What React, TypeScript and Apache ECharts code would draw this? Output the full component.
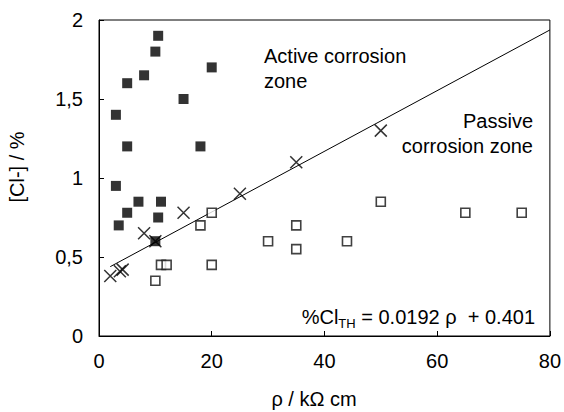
import React, { useEffect, useRef } from "react";
import * as echarts from "echarts";

// Active corrosion zone (filled squares)
const activeX = [10.5, 10, 20, 8, 5, 15, 3, 5, 18, 3, 7, 11, 5, 10.5, 3.5, 10];
const activeY = [1.9, 1.8, 1.7, 1.65, 1.6, 1.5, 1.4, 1.2, 1.2, 0.95, 0.85, 0.85, 0.78, 0.75, 0.7, 0.6];

// Passive corrosion zone (open squares)
const passiveX = [20, 18, 11, 12, 10, 20, 30, 35, 35, 44, 50, 65, 75];
const passiveY = [0.78, 0.7, 0.45, 0.45, 0.35, 0.45, 0.6, 0.7, 0.55, 0.6, 0.85, 0.78, 0.78];

// Threshold points (crosses)
const thX = [2, 3.7, 4.2, 8, 10, 15, 25, 35, 50];
const thY = [0.38, 0.41, 0.42, 0.65, 0.6, 0.78, 0.9, 1.1, 1.3];

// Regression line %Cl_TH = 0.0192 rho + 0.401
const lineX = [2, 80];
const lineY = [0.439, 1.937];

const xTicks = [0, 20, 40, 60, 80];
const yTicks = [0, 0.5, 1, 1.5, 2];

const FONT = "'Liberation Sans', Arial, Helvetica, sans-serif";

export default function App() {
  const ref = useRef<HTMLDivElement>(null);
  useEffect(() => {
    if (!ref.current) return;
    const chart = echarts.init(ref.current, null, { renderer: "svg" });
    const zip = (xs: number[], ys: number[]) => xs.map((x, i) => [x, ys[i]]);
    chart.setOption({
      animation: false,
      backgroundColor: "#ffffff",
      textStyle: { fontFamily: FONT, color: "#000" },
      grid: {
        left: 99,
        right: 12,
        top: 20,
        bottom: 76,
        show: true,
        borderColor: "#000",
        borderWidth: 1,
        backgroundColor: "transparent",
      },
      xAxis: {
        type: "value",
        min: xTicks[0],
        max: xTicks[xTicks.length - 1],
        interval: 20,
        axisLine: { show: true, lineStyle: { color: "#000", width: 1 } },
        axisTick: { show: true, inside: true, length: 5, lineStyle: { color: "#000" } },
        splitLine: { show: false },
        axisLabel: { color: "#000", fontFamily: FONT, fontSize: 20, margin: 15 },
      },
      yAxis: {
        type: "value",
        min: yTicks[0],
        max: yTicks[yTicks.length - 1],
        interval: 0.5,
        axisLine: { show: true, lineStyle: { color: "#000", width: 1 } },
        axisTick: { show: true, inside: true, length: 5, lineStyle: { color: "#000" } },
        splitLine: { show: false },
        axisLabel: {
          color: "#000",
          fontFamily: FONT,
          fontSize: 20,
          margin: 16,
          formatter: (v: number) => String(v).replace(".", ","),
        },
      },
      series: [
        {
          type: "line",
          data: zip(lineX, lineY),
          symbol: "none",
          lineStyle: { color: "#000", width: 1 },
          z: 1,
        },
        {
          type: "scatter",
          data: zip(passiveX, passiveY),
          symbol: "rect",
          symbolSize: 9,
          itemStyle: { color: "#fff", borderColor: "#111", borderWidth: 1.6 },
          z: 2,
        },
        {
          type: "scatter",
          data: zip(activeX, activeY),
          symbol: "rect",
          symbolSize: 10,
          itemStyle: { color: "#000" },
          z: 3,
        },
        {
          type: "scatter",
          data: zip(thX, thY),
          symbol: "path://M0,0L10,10M10,0L0,10",
          symbolSize: 12,
          itemStyle: { color: "transparent", borderColor: "#000", borderWidth: 1.5 },
          z: 4,
        },
      ],
      graphic: [
        {
          type: "text",
          left: 264,
          top: 43,
          style: {
            text: "Active corrosion\nzone",
            font: `20px ${FONT}`,
            fill: "#000",
            lineHeight: 25,
          },
        },
        {
          type: "text",
          x: 533,
          y: 121,
          style: {
            text: "Passive",
            font: `20px ${FONT}`,
            fill: "#000",
            align: "right",
            verticalAlign: "middle",
          },
        },
        {
          type: "text",
          x: 533,
          y: 146,
          style: {
            text: "corrosion zone",
            font: `20px ${FONT}`,
            fill: "#000",
            align: "right",
            verticalAlign: "middle",
          },
        },
        {
          type: "text",
          x: 535,
          y: 327,
          style: {
            text: "{a|%Cl}{s|TH}{a| = 0.0192 ρ  + 0.401}",
            fill: "#000",
            align: "right",
            verticalAlign: "bottom",
            rich: {
              a: { fontFamily: FONT, fontSize: 20, fill: "#000", verticalAlign: "bottom", lineHeight: 24 },
              s: { fontFamily: FONT, fontSize: 13, fill: "#000", verticalAlign: "bottom", lineHeight: 18, padding: [0, 0, -3, 0] },
            },
          },
        },
        {
          type: "text",
          x: 17,
          y: 167,
          rotation: Math.PI / 2,
          style: {
            text: "[Cl-] / %",
            font: `20px ${FONT}`,
            fill: "#000",
            align: "center",
            verticalAlign: "middle",
          },
        },
        {
          type: "text",
          x: 314,
          y: 399,
          style: {
            text: "ρ / kΩ cm",
            font: `20px ${FONT}`,
            fill: "#000",
            align: "center",
            verticalAlign: "middle",
          },
        },
      ],
    });
    return () => chart.dispose();
  }, []);
  return (
    <div
      ref={ref}
      style={{ position: "absolute", left: 0, top: 0, width: 564, height: 412 }}
    />
  );
}
